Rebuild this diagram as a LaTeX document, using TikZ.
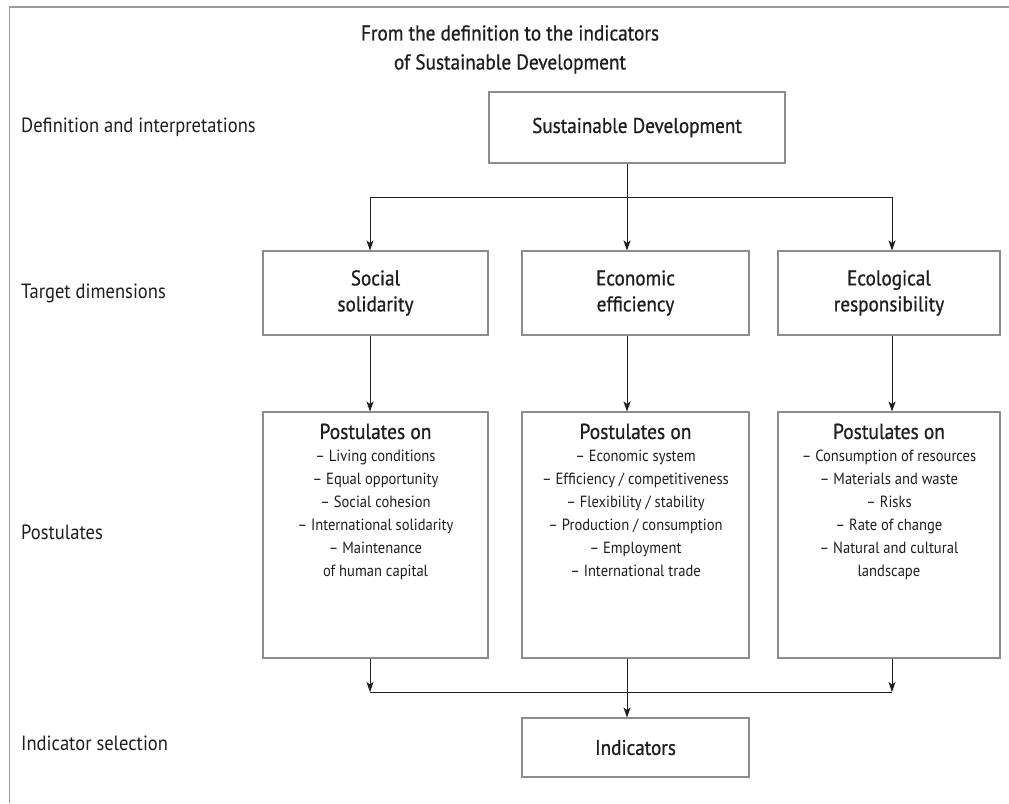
\documentclass[tikz,border=0pt]{standalone}
\usepackage{fontspec}
\setmainfont[FakeStretch=0.9]{PT Sans}
\newfontfamily\headfont[FakeStretch=0.9,FakeBold=0.7]{PT Sans}
\usetikzlibrary{arrows.meta,calc}
\definecolor{ink}{HTML}{1E1E1E}
\definecolor{boxline}{HTML}{8C8C8C}
\definecolor{frameline}{HTML}{9A9A9A}
\newcommand\posthead[1]{{\headfont\fontsize{21.6}{23}\selectfont #1}}
\begin{document}
\begin{tikzpicture}[x=1pt,y=-1pt,
  every node/.style={text=ink},
  box/.style={draw=boxline, line width=1.1pt, inner sep=0pt, align=center,
    font=\headfont\fontsize{21.3}{26}\selectfont},
  rowlabel/.style={anchor=west, inner sep=0pt, font=\fontsize{20.6}{22}\selectfont},
  postlist/.style={anchor=north, inner sep=0pt, align=center,
    font=\fontsize{16.2}{23}\selectfont},
  conn/.style={draw=ink, line width=0.9pt},
  arr/.style={conn, -{Stealth[length=10pt,width=7pt,inset=2.5pt]}}]

% page and frame
\fill[white] (0,0) rectangle (1009,803);
\useasboundingbox (0,0) rectangle (1009,803);
\draw[frameline, line width=2pt] (9,7) -- (1009,7);
\draw[frameline, line width=1pt] (9,7) -- (9,803);

% title
\node[align=center, inner sep=0pt, font=\headfont\fontsize{21.4}{29}\selectfont] (title) at (510,49.5)
  {From the definition to the indicators\\of Sustainable Development};

% row labels
\node[rowlabel] (lab1) at (21,127) {Definition and interpretations};
\node[rowlabel] (lab2) at (21,293) {Target dimensions};
\node[rowlabel] (lab3) at (21,532) {Postulates};
\node[rowlabel] (lab4) at (21,743) {Indicator selection};

% column positions of the connectors
\coordinate (colA) at (370,0);
\coordinate (colB) at (627,0);
\coordinate (colC) at (892,0);
\coordinate (fork) at (627,197);
\coordinate (join) at (627,692);

% boxes
\node[box, minimum width=296pt, minimum height=71pt] (sd) at (637,127.5) {Sustainable Development};

\node[box, minimum width=225pt, minimum height=84pt] (social) at (375.5,293) {Social\\solidarity};
\node[box, minimum width=227pt, minimum height=84pt] (econ) at (635.5,293) {Economic\\efficiency};
\node[box, minimum width=222pt, minimum height=84pt] (ecol) at (889,293) {Ecological\\responsibility};

\node[box, minimum width=225pt, minimum height=246pt] (p1) at (375.5,535) {};
\node[box, minimum width=227pt, minimum height=246pt] (p2) at (635.5,535) {};
\node[box, minimum width=222pt, minimum height=246pt] (p3) at (889,535) {};

\node[box, minimum width=227pt, minimum height=59pt] (ind) at (635.5,747.5) {Indicators};

% postulate lists
\node[postlist] (p1t) at ($(p1.north)+(0,12)$) {\posthead{Postulates on}\\
  – Living conditions\\ – Equal opportunity\\ – Social cohesion\\
  – International solidarity\\ – Maintenance\\ of human capital};
\node[postlist] (p2t) at ($(p2.north)+(0,12)$) {\posthead{Postulates on}\\
  – Economic system\\ – Efficiency / competitiveness\\ – Flexibility / stability\\
  – Production / consumption\\ – Employment\\ – International trade};
\node[postlist] (p3t) at ($(p3.north)+(0,12)$) {\posthead{Postulates on}\\
  – Consumption of resources\\ – Materials and waste\\ – Risks\\
  – Rate of change\\ – Natural and cultural\\ landscape};

% connectors: definition to target dimensions
\draw[conn] (sd.south -| fork) -- (fork);
\draw[conn] (fork -| colA) -- (fork -| colC);
\draw[arr] (fork -| colA) -- (social.north -| colA);
\draw[arr] (fork) -- (econ.north -| colB);
\draw[arr] (fork -| colC) -- (ecol.north -| colC);

% target dimensions to postulates
\draw[arr] (social.south -| colA) -- (p1.north -| colA);
\draw[arr] (econ.south -| colB) -- (p2.north -| colB);
\draw[arr] (ecol.south -| colC) -- (p3.north -| colC);

% postulates to indicators
\draw[arr] (p1.south -| colA) -- (join -| colA);
\draw[arr] (p3.south -| colC) -- (join -| colC);
\draw[conn] (join -| colA) -- (join -| colC);
\draw[arr] (p2.south -| colB) -- (ind.north -| colB);
\end{tikzpicture}
\end{document}
